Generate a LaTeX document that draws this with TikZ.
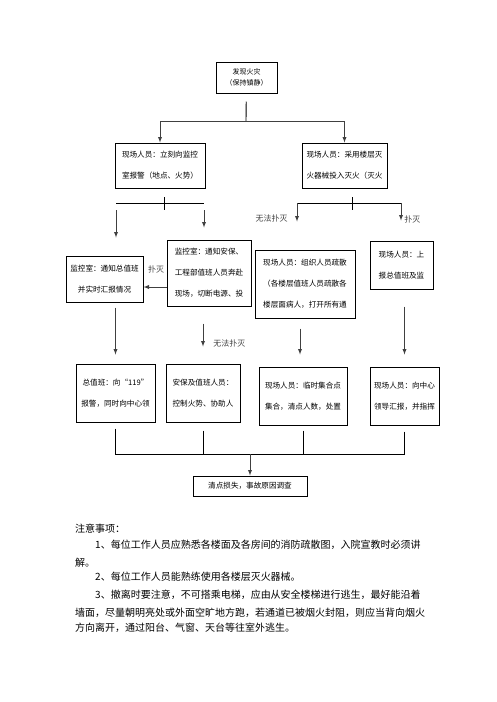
\documentclass[tikz,border=0pt]{standalone}
\usepackage{fontspec}
\setmainfont{Noto Sans CJK SC}
\usetikzlibrary{positioning}
\usetikzlibrary{arrows}
\tikzset{
    box/.style={
        draw,
        line width=1pt,
        inner sep=2pt,
        align=center,
        font=\fontsize{7.6pt}{21pt}\selectfont},
    wire/.style={
        draw,
        line width=0.9pt},
    flow/.style={
        wire,
        ->,>=latex,
        black!75},
    lbl/.style={
        font=\fontsize{8pt}{8pt}\selectfont,
        inner sep=1pt},
    note/.style={
        anchor=west,
        inner sep=0pt,
        font=\fontsize{10pt}{10pt}\selectfont}}

\begin{document}
\begin{tikzpicture}[x=1pt,y=-1pt]
        \useasboundingbox (0,0) rectangle (496,702);

        \node[box, minimum width=61pt, minimum height=31pt, font=\fontsize{7pt}{11pt}\selectfont] (fire) at (246.5,77.5) {发现火灾\\（保持镇静）};
        \node[box, minimum width=90pt, minimum height=45pt] (alarm) at (160,165.5) {现场人员：立刻向监控\\室报警（地点、火势）};
        \node[box, minimum width=85pt, minimum height=45pt] (fight) at (344.5,165.5) {现场人员：采用楼层灭\\火器械投入灭火（灭火};

        \node[box, minimum width=77pt, minimum height=46pt] (notify) at (104.5,279) {监控室：通知总值班\\并实时汇报情况};
        \node[box, align=left, minimum width=84pt, minimum height=66pt] (security) at (209,273) {监控室：通知安保、\\工程部值班人员奔赴\\现场，切断电源、投};
        \node[box, minimum width=100pt, minimum height=68pt] (evacuate) at (305,284) {现场人员：组织人员疏散\\（各楼层值班人员疏散各\\楼层面病人，打开所有通};
        \node[box, minimum width=63pt, minimum height=48pt] (report) at (401.5,265) {现场人员：上\\报总值班及监};

        \node[box, minimum width=79pt, minimum height=58pt] (chief) at (115.5,393) {总值班：向“119”\\报警，同时向中心领};
        \node[box, align=left, minimum width=74pt, minimum height=58pt] (control) at (203,393) {安保及值班人员：\\控制火势、协助人};
        \node[box, minimum width=88pt, minimum height=58pt] (muster) at (303,396) {现场人员：临时集合点\\集合，清点人数，处置};
        \node[box, minimum width=69pt, minimum height=58pt] (leader) at (404.5,396) {现场人员：向中心\\领导汇报，并指挥};

        \node[box, minimum width=114pt, minimum height=20pt] (summary) at (250,486) {清点损失，事故原因调查};

        \coordinate (fireJoin) at (246,121);
        \draw[wire, shorten <=8pt] (fire) -- (fireJoin);
        \draw[flow] (fireJoin) -| (alarm.north);
        \draw[flow] (fireJoin) -| (fight.north);

        \coordinate (alarmLeft) at (116,203);
        \coordinate (alarmRight) at (204,203);
        \coordinate (alarmTick) at (164,197);
        \draw[wire] (alarmLeft) -- (alarmRight);
        \draw[wire] (alarmTick) -- ++(0,13);
        \draw[flow, shorten <=7pt, shorten >=18pt] (alarmLeft) -- (alarmLeft |- notify.north);
        \draw[flow, shorten <=7pt, shorten >=12pt] (alarmRight) -- (alarmRight |- security.north);

        \coordinate (fightLeft) at (297,203);
        \coordinate (fightRight) at (401,203);
        \coordinate (fightTick) at (352,197);
        \draw[wire] (fightLeft) -- (fightRight);
        \draw[wire] (fightTick) -- ++(0,13);
        \draw[flow, shorten >=28pt] (fightLeft) -- node[lbl, pos=.34, left=8pt] {无法扑灭} (fightLeft |- evacuate.north);
        \draw[flow, shorten >=20pt] (fightRight) -- node[lbl, pos=.45, right=2pt] {扑灭} (fightRight |- report.north);

        \coordinate (secOut) at ([yshift=-14pt]security.west);
        \draw[flow] (secOut) -- node[lbl, pos=.45, above=12pt] {扑灭} (secOut -| notify.east);

        \draw[flow, shorten <=5pt, shorten >=9pt] (chief.north |- notify.south) -- (chief.north);
        \draw[flow, shorten <=17pt, shorten >=17pt] (control.north |- security.south) -- node[lbl, pos=.64, right=9pt] {无法扑灭} (control.north);
        \coordinate (evaOut) at ([xshift=-5pt]evacuate.south);
        \draw[flow, shorten <=10pt, shorten >=12pt] (evaOut) -- (evaOut |- muster.north);
        \draw[flow, shorten <=17pt, shorten >=12pt] (leader.north |- report.south) -- (leader.north);

        \coordinate (merge) at (250,454);
        \draw[wire, shorten <=6pt] (chief.south) |- (merge);
        \draw[wire, shorten <=6pt] (leader.south) |- (merge);
        \draw[wire, shorten <=8pt] (control.south) -- (control.south |- merge);
        \draw[wire, shorten <=5pt] (muster.south) -- (muster.south |- merge);
        \draw[flow] (merge) -- (summary.north);

        \node[note] (notes) at (75,529) {注意事项：};
        \node[note] (item1a) at (95,545) {1、每位工作人员应熟悉各楼面及各房间的消防疏散图，入院宣教时必须讲};
        \node[note] (item1b) at (75,563) {解。};
        \node[note] (item2) at (95,577) {2、每位工作人员能熟练使用各楼层灭火器械。};
        \node[note] (item3a) at (95,595) {3、撤离时要注意，不可搭乘电梯，应由从安全楼梯进行逃生，最好能沿着};
        \node[note] (item3b) at (75,613) {墙面，尽量朝明亮处或外面空旷地方跑，若通道已被烟火封阻，则应当背向烟火};
        \node[note] (item3c) at (75,628) {方向离开，通过阳台、气窗、天台等往室外逃生。};
\end{tikzpicture}
\end{document}
